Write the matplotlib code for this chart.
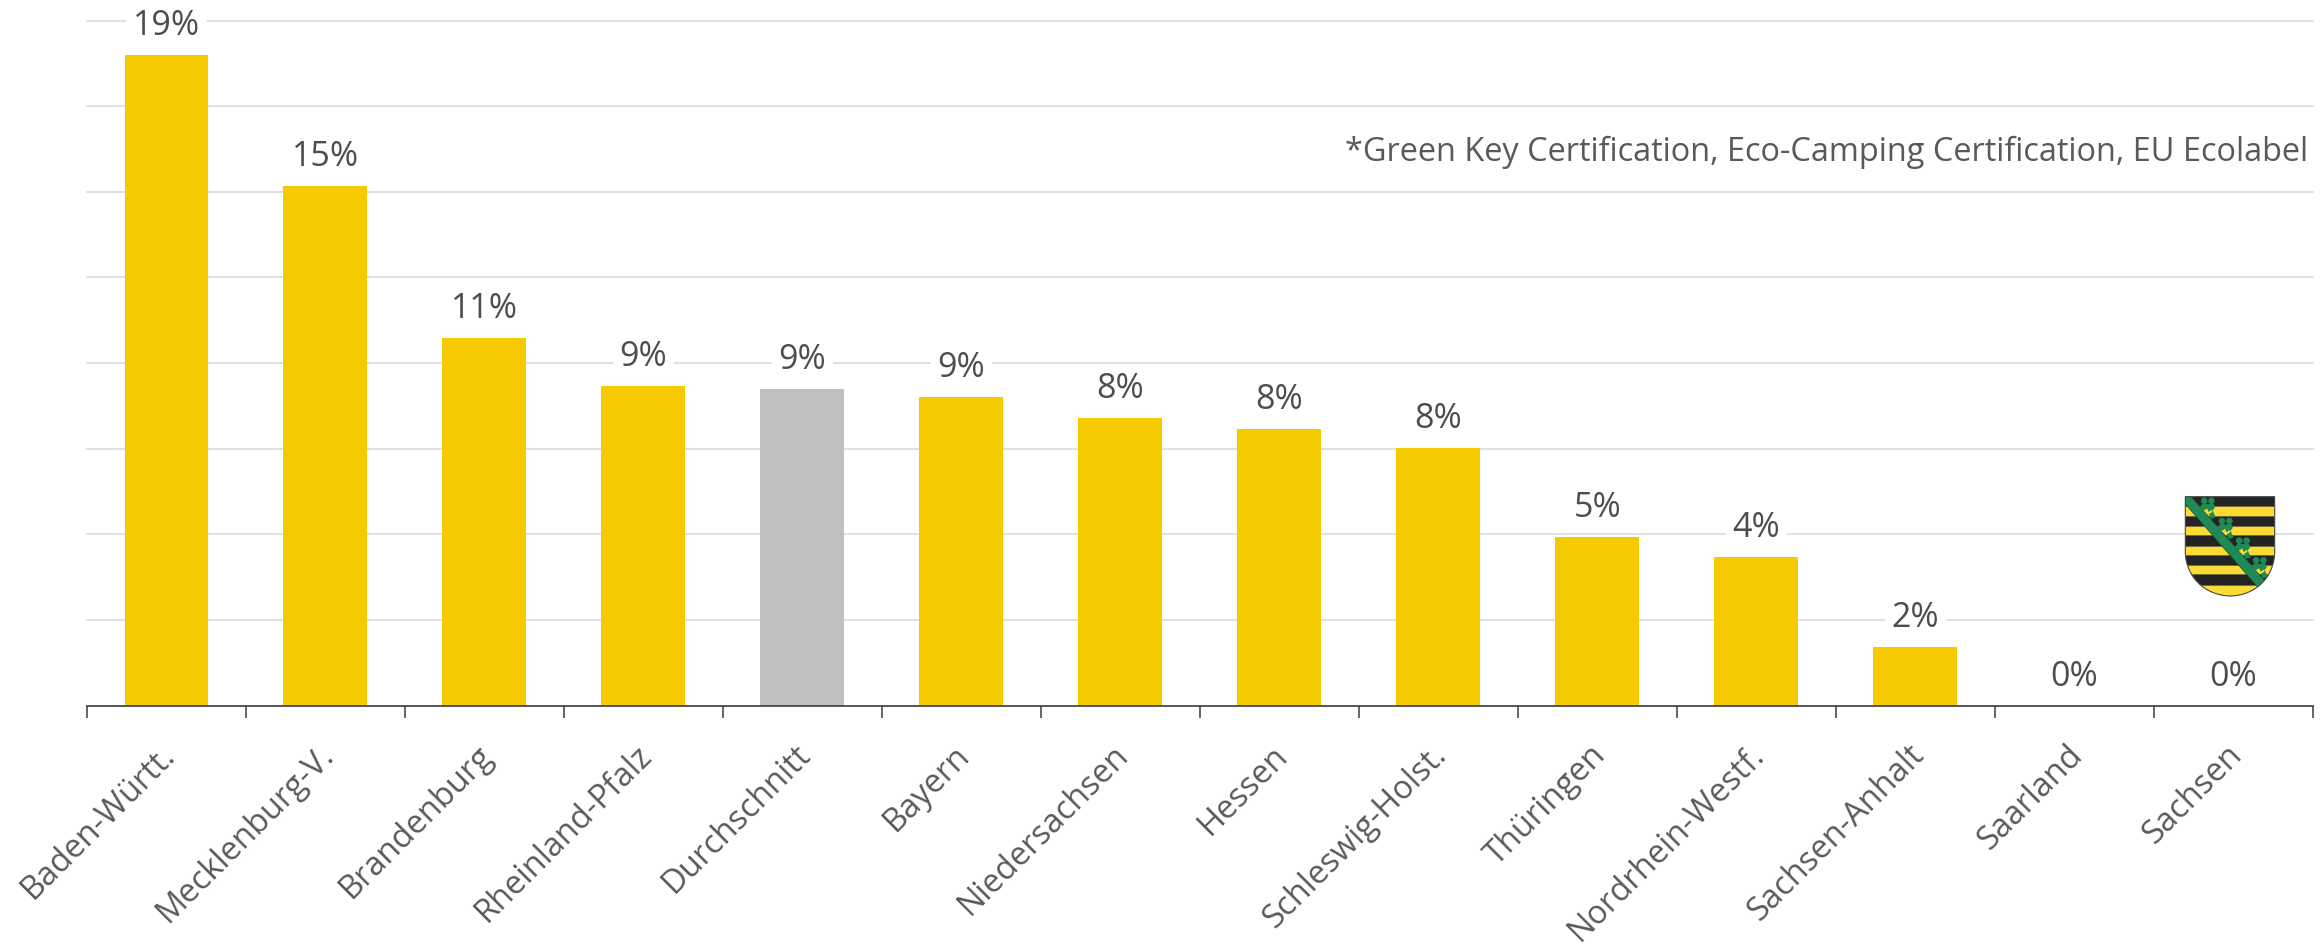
import matplotlib
matplotlib.use('Agg')
import matplotlib.pyplot as plt
from matplotlib.patches import Circle, PathPatch, Polygon, Rectangle, Wedge
from matplotlib.path import Path
from matplotlib.transforms import ScaledTranslation

names = ['Baden-Württ.', 'Mecklenburg-V.', 'Brandenburg', 'Rheinland-Pfalz', 'Durchschnitt', 'Bayern',
         'Niedersachsen', 'Hessen', 'Schleswig-Holst.', 'Thüringen', 'Nordrhein-Westf.', 'Sachsen-Anhalt',
         'Saarland', 'Sachsen']
values = [18.99, 15.17, 10.73, 9.33, 9.24, 9.01, 8.40, 8.08, 7.52, 4.92, 4.34, 1.71, 0, 0]
labels = ['19%', '15%', '11%', '9%', '9%', '9%', '8%', '8%', '8%', '5%', '4%', '2%', '0%', '0%']
grid_values = [2.5, 5, 7.5, 10, 12.5, 15, 17.5, 20]
note = '*Green Key Certification, Eco-Camping Certification, EU Ecolabel'

W = 2323
H = 945
YELLOW = '#F6CA00'
GREY = '#BFBFBF'
TEXT = '#595959'
plt.rcParams['font.family'] = ['Open Sans', 'DejaVu Sans']


def draw_shield(fig):
    """герб Саксонии, координаты в пикселях кропа"""
    x0, x1, y0, y1 = 2184, 2276, 497, 599
    ax_s = fig.add_axes([x0 / W, 1 - y1 / H, (x1 - x0) / W, (y1 - y0) / H], zorder=5)
    ax_s.set_xlim(100, 378)
    ax_s.set_ylim(386, 80)
    ax_s.axis('off')
    outline = Path([(104, 82), (374, 82), (374, 250), (372, 320), (320, 378), (240, 380),
                    (160, 378), (106, 320), (104, 250), (104, 82)],
                   [Path.MOVETO, Path.LINETO, Path.LINETO, Path.CURVE4, Path.CURVE4, Path.CURVE4,
                    Path.CURVE4, Path.CURVE4, Path.CURVE4, Path.LINETO])
    clip = PathPatch(outline, facecolor='#232323', edgecolor='none')
    ax_s.add_patch(clip)
    for top, bottom in [(111, 139), (170, 198), (229, 257), (287, 315), (346, 386)]:
        r = Rectangle((100, top), 280, bottom - top, facecolor='#FBDB35', edgecolor='#6E6238', lw=0.5)
        ax_s.add_patch(r)
        r.set_clip_path(clip)
    band = Polygon([(104, 80), (120, 80), (345, 335), (325, 356), (104, 104)], facecolor='#1E8A55',
                   edgecolor='#14512F', lw=0.5)
    ax_s.add_patch(band)
    band.set_clip_path(clip)
    for cx, cy in [(172, 104), (226, 165), (278, 224), (329, 283)]:
        stem = Polygon([(cx - 6, cy), (cx + 6, cy), (cx + 24, cy + 40), (cx + 8, cy + 44)],
                       facecolor='#1E8A55', edgecolor='none')
        ax_s.add_patch(stem)
        stem.set_clip_path(clip)
        for dx, dy in [(-11, -10), (11, -10), (-11, 8), (11, 8)]:
            leaf = Circle((cx + dx, cy + dy), 10, facecolor='#1E8A55', edgecolor='none')
            ax_s.add_patch(leaf)
            leaf.set_clip_path(clip)
        moon = Wedge((cx + 2, cy + 16), 13, 20, 160, width=6, facecolor='#FBDB35', edgecolor='none')
        ax_s.add_patch(moon)
    border = PathPatch(outline, facecolor='none', edgecolor='#4A4A4A', lw=0.8)
    ax_s.add_patch(border)


fig = plt.figure(figsize=(W / 100, H / 100), dpi=100)
ax = fig.add_axes([87 / W, 1 - 706.7 / H, (2312.7 - 87) / W, (706.7 - 21.5) / H])
ax.set_xlim(-0.5, len(names) - 0.5)
ax.set_ylim(0, 20)

colors = [GREY if n == 'Durchschnitt' else YELLOW for n in names]
ax.bar(range(len(names)), values, width=0.528, color=colors, zorder=3)

for g in grid_values:
    ax.axhline(g, color='#E0E0E0', lw=1.4, zorder=1, clip_on=False)

for i in range(len(names)):
    ax.annotate(labels[i], (i, values[i]), xytext=(0, 15.2), textcoords='offset points', ha='center',
                va='baseline', fontsize=24.5, color='#4D4D4D', zorder=4,
                bbox=dict(facecolor='white', edgecolor='none', pad=5))

for side in ['top', 'right', 'left']:
    ax.spines[side].set_visible(False)
ax.spines['bottom'].set_color('#3A3A3A')
ax.spines['bottom'].set_linewidth(1.2)
ax.spines['bottom'].set_zorder(4)

ax.set_yticks([])
ax.set_xticks(range(len(names)))
ax.set_xticklabels(names, rotation=45, ha='right', rotation_mode='anchor', fontsize=23.5, color=TEXT)
ax.tick_params(axis='x', which='major', length=0, pad=23)
ax.set_xticks([i - 0.5 for i in range(len(names) + 1)], minor=True)
ax.tick_params(axis='x', which='minor', length=8.5, width=1.1, color='#3A3A3A')

shift = ScaledTranslation(-8 / 100, 0, fig.dpi_scale_trans)
for label in ax.xaxis.get_majorticklabels():
    label.set_transform(label.get_transform() + shift)

fig.text(2308 / W, 1 - 152 / H, note, ha='right', va='center', fontsize=23.45, color=TEXT)

draw_shield(fig)

fig.savefig('out.png', dpi=100)
